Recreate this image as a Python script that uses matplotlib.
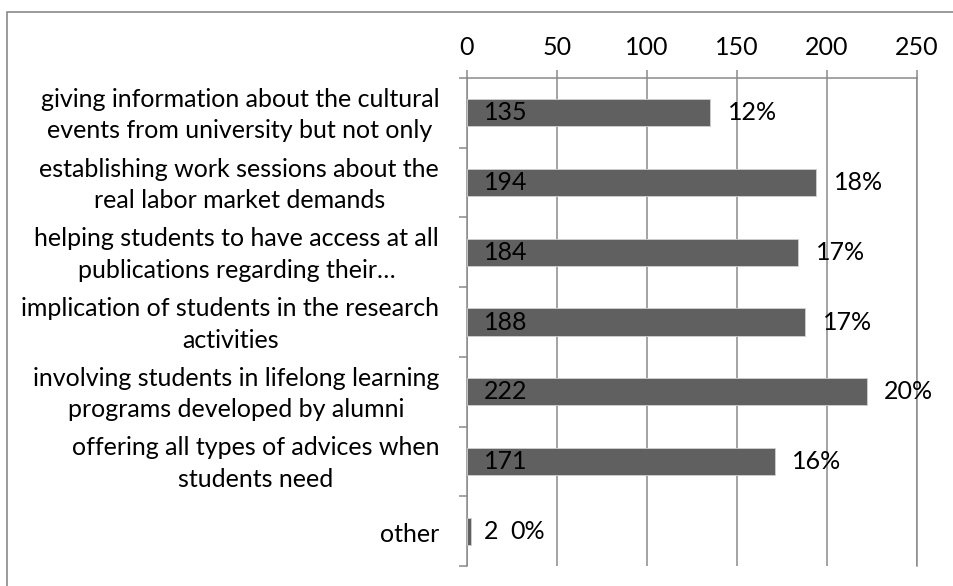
import matplotlib
matplotlib.use("Agg")
import matplotlib.pyplot as plt
from matplotlib.patches import Rectangle
from matplotlib.transforms import ScaledTranslation
import numpy as np

categories = [
    "giving information about the cultural\nevents from university but not only",
    "establishing work sessions about the\nreal labor market demands",
    "helping students to have access at all\npublications regarding their\u2026",
    "implication of students in the research\nactivities",
    "involving students in lifelong learning\nprograms developed by alumni",
    "offering all types of advices when\nstudents need",
    "other",
]
counts = [135, 194, 184, 188, 222, 171, 2]
percents = ["12%", "18%", "17%", "17%", "20%", "16%", "0%"]
xticks = [0, 50, 100, 150, 200, 250]

plt.rcParams['font.family'] = ['Lato', 'DejaVu Sans']
FS = 18
GRID = '#8a8a8a'
BAR = '#606060'

W, H = 954, 586
fig = plt.figure(figsize=(W / 100, H / 100), dpi=100)
ax = fig.add_axes([467 / W, 1 - 566 / H, (917 - 467) / W, (566 - 78) / H])

y = np.arange(len(categories))
ax.barh(y, counts, height=0.39, color=BAR, edgecolor='#d0d0d0', linewidth=0.6, zorder=3)

ax.set_xlim(0, 250)
ax.set_ylim(len(categories) - 0.5, -0.5)
ax.set_xticks(xticks)
ax.set_xticklabels([str(t) for t in xticks], fontsize=FS)
ax.xaxis.tick_top()
ax.tick_params(axis='x', which='major', length=6, width=1.1, color=GRID, pad=8)
ax.grid(axis='x', color=GRID, linewidth=1.1, zorder=0)

ax.set_yticks(y)
ax.set_yticklabels(categories, fontsize=FS, ha='right', multialignment='center', linespacing=1.45)
ax.tick_params(axis='y', which='major', length=0, pad=20)
ax.set_yticks(np.arange(-0.5, len(categories)), minor=True)
ax.tick_params(axis='y', which='minor', length=6, width=1.1, color=GRID)
for lab in ax.get_yticklabels():
    dy = 4 if "\n" in lab.get_text() else -1
    lab.set_transform(lab.get_transform() + ScaledTranslation(0, dy / 100, fig.dpi_scale_trans))

for s in ['bottom']:
    ax.spines[s].set_visible(False)
for s in ['top', 'left', 'right']:
    ax.spines[s].set_color(GRID)
    ax.spines[s].set_linewidth(1.1)

for i, (v, p) in enumerate(zip(counts, percents)):
    ax.text(9.3, i, str(v), fontsize=FS, va='center', ha='left', color='black', zorder=4)
    ax.text(max(v + 9.7, 24.3), i, p, fontsize=FS, va='center', ha='left', color='black', zorder=4)

fig.patches.append(Rectangle((7.5 / W, -0.1), 1.2, 1.1 - 12.5 / H, transform=fig.transFigure,
                             fill=False, edgecolor='#8a8a8a', linewidth=1.2))

fig.savefig('out.png', dpi=100)
